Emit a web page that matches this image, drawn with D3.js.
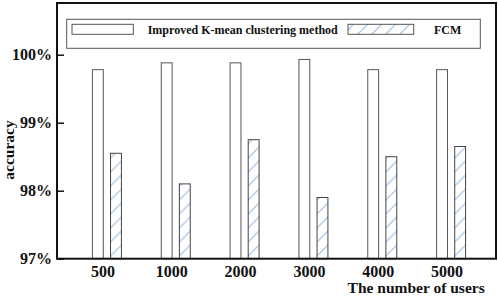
<!DOCTYPE html>
<html>
<head>
<meta charset="utf-8">
<script src="https://cdn.jsdelivr.net/npm/d3@7"></script>
<style>
  body { margin: 0; background: #fff; }
  text { font-family: "Liberation Serif", "Times New Roman", serif; font-weight: bold; }
</style>
</head>
<body>
<div id="chart"></div>
<script>
var categories = ['500', '1000', '2000', '3000', '4000', '5000'];
var improved = [99.78, 99.88, 99.88, 99.93, 99.78, 99.78];
var fcm = [98.55, 98.1, 98.75, 97.9, 98.5, 98.65];
var yTicks = [97, 98, 99, 100];
var seriesNames = ['Improved K-mean clustering method', 'FCM'];

var width = 498, height = 296;
var frame = { left: 57, top: 3, right: 496, bottom: 258.7 };

var svg = d3.select('#chart').append('svg')
    .attr('width', width)
    .attr('height', height);

// hatch for FCM bars
var defs = svg.append('defs');
defs.append('pattern')
    .attr('id', 'hatch')
    .attr('patternUnits', 'userSpaceOnUse')
    .attr('width', 14)
    .attr('height', 14)
    .call(function (p) {
        p.append('rect').attr('width', 14).attr('height', 14).attr('fill', '#fff');
        p.append('path')
            .attr('d', 'M0,14 L14,0 M-3.5,3.5 L3.5,-3.5 M10.5,17.5 L17.5,10.5')
            .attr('stroke', '#a9c9ea')
            .attr('stroke-width', 1.3);
    });

var y = d3.scaleLinear()
    .domain([97, 100.76])
    .range([frame.bottom, frame.top]);

var x = d3.scaleBand()
    .domain(categories)
    .range([72.5, 485.5])
    .padding(0);

var sub = d3.scaleBand()
    .domain(['imp', 'fcm'])
    .range([x.bandwidth() / 2 - 14.5, x.bandwidth() / 2 + 14.5])
    .paddingInner(0.4);

var rows = categories.map(function (c, i) {
    return { cat: c, imp: improved[i], fcm: fcm[i] };
});

var groups = svg.append('g').selectAll('g')
    .data(rows)
    .enter()
    .append('g')
    .attr('transform', function (d) { return 'translate(' + x(d.cat) + ',0)'; });

groups.append('rect')
    .attr('x', sub('imp'))
    .attr('width', sub.bandwidth())
    .attr('y', function (d) { return y(d.imp); })
    .attr('height', function (d) { return y(97) - y(d.imp); })
    .attr('fill', '#fff')
    .attr('stroke', '#555')
    .attr('stroke-width', 1);

groups.append('rect')
    .attr('x', sub('fcm'))
    .attr('width', sub.bandwidth())
    .attr('y', function (d) { return y(d.fcm); })
    .attr('height', function (d) { return y(97) - y(d.fcm); })
    .attr('fill', 'url(#hatch)')
    .attr('stroke', '#444')
    .attr('stroke-width', 1);

// frame
svg.append('rect')
    .attr('x', frame.left)
    .attr('y', frame.top)
    .attr('width', frame.right - frame.left)
    .attr('height', frame.bottom - frame.top)
    .attr('fill', 'none')
    .attr('stroke', '#111')
    .attr('stroke-width', 2);

// y axis
var yAxis = svg.append('g')
    .attr('transform', 'translate(' + frame.left + ',0)')
    .call(d3.axisLeft(y)
        .tickValues(yTicks)
        .tickSizeInner(-7)
        .tickSizeOuter(0)
        .tickPadding(5)
        .tickFormat(function (d) { return d + '%'; }));
yAxis.select('.domain').remove();
yAxis.selectAll('line').attr('stroke', '#111').attr('stroke-width', 1.5);
yAxis.selectAll('text')
    .attr('font-size', 16)
    .attr('fill', '#111')
    .style('font-family', '"Liberation Serif", serif')
    .style('font-weight', 'bold');

// x labels
svg.append('g').selectAll('text')
    .data(categories)
    .enter()
    .append('text')
    .attr('x', function (d) { return x(d) + x.bandwidth() / 2 - 4; })
    .attr('y', 277)
    .attr('text-anchor', 'middle')
    .attr('font-size', 16)
    .attr('fill', '#111')
    .text(function (d) { return d; });

svg.append('text')
    .attr('x', 484.7)
    .attr('y', 293)
    .attr('text-anchor', 'end')
    .attr('font-size', 15.5)
    .attr('fill', '#111')
    .text('The number of users');

svg.append('text')
    .attr('transform', 'translate(14,150) rotate(-90)')
    .attr('text-anchor', 'middle')
    .attr('font-size', 15.5)
    .attr('fill', '#111')
    .text('accuracy');

// legend
var legend = svg.append('g');
legend.append('rect')
    .attr('x', 66.7)
    .attr('y', 19.3)
    .attr('width', 413.6)
    .attr('height', 29)
    .attr('fill', '#fff')
    .attr('stroke', '#555')
    .attr('stroke-width', 1);
legend.append('rect')
    .attr('x', 72).attr('y', 24.3).attr('width', 61.3).attr('height', 10)
    .attr('fill', '#fff').attr('stroke', '#555');
legend.append('text')
    .attr('x', 147.7).attr('y', 34)
    .attr('font-size', 12)
    .attr('fill', '#111')
    .text(seriesNames[0]);
legend.append('rect')
    .attr('x', 348).attr('y', 24.3).attr('width', 65.7).attr('height', 10)
    .attr('fill', 'url(#hatch)').attr('stroke', '#555');
legend.append('text')
    .attr('x', 434).attr('y', 34)
    .attr('font-size', 12)
    .attr('fill', '#111')
    .text(seriesNames[1]);
</script>
</body>
</html>
